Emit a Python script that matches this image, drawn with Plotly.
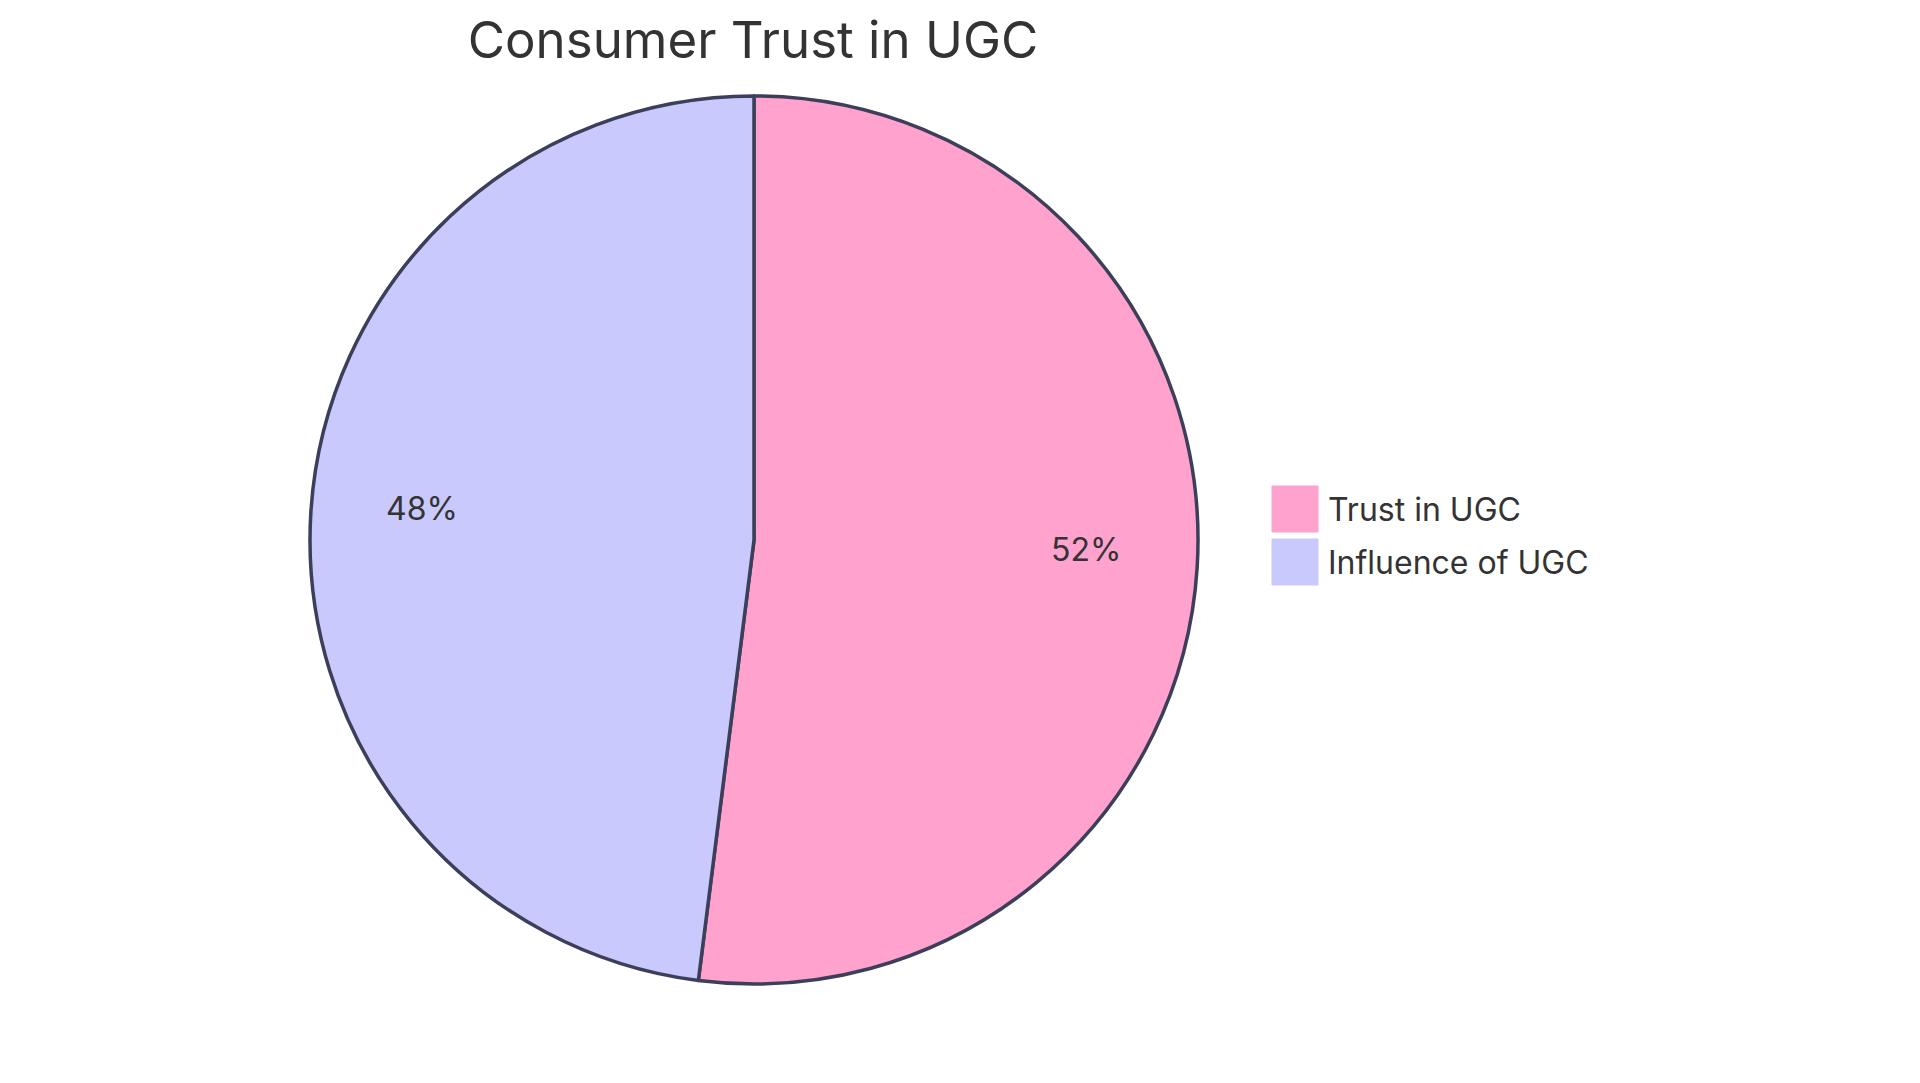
import math
import plotly.graph_objects as go

# chart data
title = "Consumer Trust in UGC"
labels = ["Trust in UGC", "Influence of UGC"]
values = [52, 48]
colors = ["#FFA2CD", "#C9C9FE"]

W, H = 1920, 1083
PAGE = 8                       # default body margin of the html page
CX, CY, R = 754, 540, 444      # pie centre and radius, px from top-left
STROKE = "#3C3F5A"
TEXT = "#333333"
FONT = "Inter"


def px_x(x):
    return (x - PAGE) / W


def px_y(y):
    return 1 - (y - PAGE) / H


fig = go.Figure()

fig.add_trace(go.Pie(labels=labels, values=values, sort=False,
                     direction="clockwise", rotation=0,
                     marker=dict(colors=colors, line=dict(color=STROKE, width=3.5)),
                     textinfo="none", hoverinfo="label+percent",
                     showlegend=False,
                     domain=dict(x=[px_x(CX - R), px_x(CX + R)],
                                 y=[px_y(CY + R), px_y(CY - R)])))

# percentage labels at 3/4 of the radius, on the middle of each slice
total = sum(values)
start = 0
for v in values:
    frac = v / total
    ang = 2 * math.pi * (start + frac / 2)
    lx = CX + 0.75 * R * math.sin(ang)
    ly = CY - 0.75 * R * math.cos(ang)
    fig.add_annotation(x=px_x(lx), y=px_y(ly), xref="paper", yref="paper",
                       text="{}%".format(round(100 * frac)), showarrow=False,
                       xanchor="center", yanchor="middle", yshift=11,
                       font=dict(family=FONT, size=32, color=TEXT))
    start += frac

# legend drawn by hand (large square swatches)
LEG_X, LEG_Y, BOX, STEP = 1272, 486, 46, 53
for i, (lab, col) in enumerate(zip(labels, colors)):
    top = LEG_Y + i * STEP
    fig.add_shape(type="rect", xref="paper", yref="paper",
                  x0=px_x(LEG_X), x1=px_x(LEG_X + BOX),
                  y0=px_y(top + BOX), y1=px_y(top),
                  fillcolor=col, line=dict(color=col, width=1))
    fig.add_annotation(x=px_x(LEG_X + BOX + 8), y=px_y(top + BOX / 2),
                       xref="paper", yref="paper", text=lab, showarrow=False,
                       xanchor="left", yanchor="middle",
                       font=dict(family=FONT, size=32, color=TEXT))

fig.update_layout(width=W, height=H,
                  margin=dict(l=0, r=0, t=0, b=0),
                  paper_bgcolor="white", plot_bgcolor="white",
                  title=dict(text=title, x=px_x(753), xanchor="center",
                             y=px_y(40), yanchor="middle",
                             font=dict(family=FONT, size=51, color=TEXT)))

fig.write_html("out.html")
